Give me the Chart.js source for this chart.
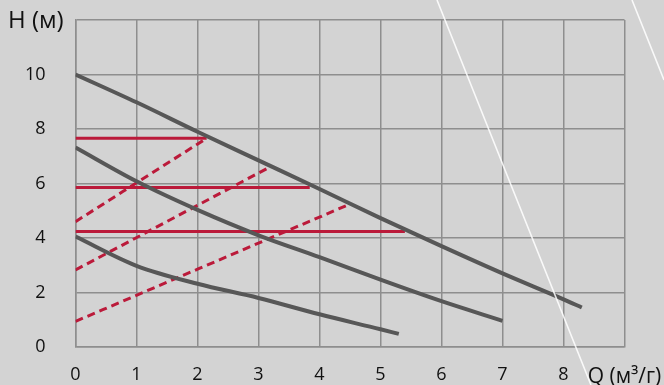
<!DOCTYPE html>
<html lang="uk">
<head>
    <meta charset="UTF-8">
    <title>H-Q</title>
    <script src="https://cdn.jsdelivr.net/npm/chart.js"></script>
    <style>
        html, body {
            margin: 0;
            padding: 0;
            background: #d3d3d3;
        }
        .wrap {
            width: 664px;
            height: 385px;
        }
    </style>
</head>
<body>
    <div class="wrap"><canvas id="pumpChart" width="664" height="385"></canvas></div>

    <script>
        // pump curves (speed 3, 2, 1)
        const qHigh = [0, 1, 2, 3, 4, 5, 6, 7, 8, 8.3];
        const hHigh = [10, 8.98, 7.9, 6.85, 5.8, 4.73, 3.7, 2.7, 1.75, 1.45];
        const qMid = [0, 1, 2, 3, 4, 5, 6, 7];
        const hMid = [7.32, 6.08, 5.03, 4.1, 3.3, 2.47, 1.68, 0.96];
        const qLow = [0, 1, 2, 3, 4, 5, 5.3];
        const hLow = [4.05, 2.98, 2.32, 1.8, 1.2, 0.65, 0.48];

        // operating points: constant head lines and system lines
        const qConst = [[0, 2.15], [0, 3.84], [0, 5.4]];
        const hConst = [7.66, 5.85, 4.24];
        const qSys = [[0, 2.15], [0, 3.2], [0, 4.45]];
        const hSys = [[4.6, 7.66], [2.83, 6.62], [0.94, 5.2]];

        const xTicks = [0, 1, 2, 3, 4, 5, 6, 7, 8];
        const yTicks = [0, 2, 4, 6, 8, 10];
        const xTitle = 'Q (м³/г)';
        const yTitle = 'H (м)';

        const dark = '#575757';
        const red = '#bb1a3a';
        const gridColor = '#8e8e8e';

        function pts(xs, ys) {
            return xs.map((x, i) => ({ x: x, y: ys[i] }));
        }

        const datasets = [
            { data: pts(qHigh, hHigh), borderColor: dark, borderWidth: 4 },
            { data: pts(qMid, hMid), borderColor: dark, borderWidth: 4 },
            { data: pts(qLow, hLow), borderColor: dark, borderWidth: 4 }
        ];
        hConst.forEach((h, i) => {
            datasets.push({ data: pts(qConst[i], [h, h]), borderColor: red, borderWidth: 3 });
        });
        hSys.forEach((hs, i) => {
            datasets.push({ data: pts(qSys[i], hs), borderColor: red, borderWidth: 3, borderDash: [8, 5] });
        });

        const decorations = {
            id: 'decorations',
            afterDraw(chart) {
                const c = chart.ctx;
                const y = chart.scales.y;
                c.save();
                c.fillStyle = '#111';
                c.font = '24px "Open Sans"';
                c.textAlign = 'left';
                c.textBaseline = 'middle';
                c.fillText(yTitle, 8, y.getPixelForValue(12) + 1);
                // light diagonal streaks over the picture
                c.strokeStyle = 'rgba(255,255,255,0.85)';
                c.lineWidth = 1.6;
                c.beginPath();
                c.moveTo(437, 0);
                c.lineTo(591, 385);
                c.moveTo(632, 0);
                c.lineTo(664, 80);
                c.stroke();
                c.restore();
            }
        };

        new Chart(document.getElementById('pumpChart'), {
            type: 'line',
            data: { datasets: datasets },
            plugins: [decorations],
            options: {
                responsive: false,
                animation: false,
                layout: { padding: { top: 20, right: 39.5, left: 0, bottom: 0 } },
                plugins: { legend: { display: false }, tooltip: { enabled: false } },
                elements: {
                    point: { radius: 0 },
                    line: { fill: false, borderCapStyle: 'butt', cubicInterpolationMode: 'monotone' }
                },
                scales: {
                    x: {
                        type: 'linear',
                        min: 0,
                        max: 9,
                        afterBuildTicks: (s) => { s.ticks = xTicks.concat([9]).map(v => ({ value: v })); },
                        afterFit: (s) => {
                            s.height = 38;
                            s.paddingLeft = 0;
                            s.paddingRight = 0;
                        },
                        grid: { color: gridColor, lineWidth: 1.5, drawTicks: false },
                        border: { color: gridColor, width: 1.5 },
                        ticks: {
                            padding: 17,
                            color: '#111',
                            maxRotation: 0,
                            autoSkip: false,
                            font: (ctx) => ({ family: 'Open Sans', size: ctx.tick && ctx.tick.value === 9 ? 21 : 18 }),
                            callback: (v) => v === 9 ? xTitle : String(v)
                        }
                    },
                    y: {
                        min: 0,
                        max: 12,
                        afterBuildTicks: (s) => { s.ticks = yTicks.concat([12]).map(v => ({ value: v })); },
                        afterFit: (s) => {
                            s.width = 75.5;
                            s.paddingTop = 0;
                            s.paddingBottom = 0;
                        },
                        grid: { color: gridColor, lineWidth: 1.5, drawTicks: false },
                        border: { color: gridColor, width: 1.5 },
                        ticks: {
                            padding: 30,
                            color: '#111',
                            font: { family: 'Open Sans', size: 18 },
                            callback: (v) => v === 12 ? '' : String(v)
                        }
                    }
                }
            }
        });
    </script>
</body>
</html>
